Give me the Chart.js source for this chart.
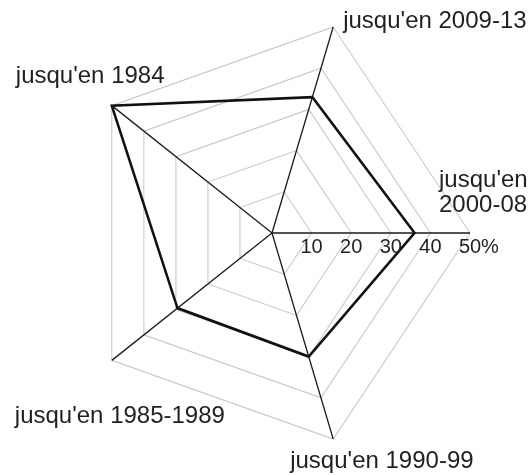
<!DOCTYPE html>
<html>
<head>
<meta charset="utf-8">
<script src="https://cdn.jsdelivr.net/npm/chart.js@4/dist/chart.umd.min.js"></script>
<style>
  html, body { margin: 0; padding: 0; background: #fff; }
</style>
</head>
<body>
<canvas id="radar" width="531" height="475"></canvas>
<script>
// categories, clockwise starting from the upper right spoke
const periods = ["jusqu'en 2009-13", ["jusqu'en", "2000-08"], "jusqu'en 1990-99", "jusqu'en 1985-1989", "jusqu'en 1984"];
// share in %
const shares = [33, 36, 30, 29.5, 50];
const tickValues = [10, 20, 30, 40, 50];

const ink = '#231f20';
const yStretch = 1.094;            // the original figure is a bit taller than wide
const labelFont = '24px "Liberation Sans", Arial, sans-serif';
const tickFont = '20px "Liberation Sans", Arial, sans-serif';
// where each category text starts, relative to the outer corner of its spoke
const labelOffsets = [[10, 1], [-31, -46], [-43, 29], [-97, 63], [-96, -23]];

const stretchPlugin = {
    id: 'stretch',
    beforeDraw(chart) {
        const s = chart.scales.r;
        const ctx = chart.ctx;
        ctx.save();
        ctx.translate(s.xCenter, s.yCenter);
        ctx.scale(1, yStretch);
        ctx.translate(-s.xCenter, -s.yCenter);
    },
    afterDraw(chart) {
        const s = chart.scales.r;
        const ctx = chart.ctx;
        ctx.restore();

        ctx.save();
        ctx.fillStyle = ink;
        ctx.textBaseline = 'alphabetic';

        // tick values along the right spoke
        ctx.font = tickFont;
        ctx.textAlign = 'left';
        tickValues.forEach(function (v, i) {
            const p = s.getPointPositionForValue(1, v);
            const num = String(v);
            const txt = i === tickValues.length - 1 ? num + '%' : num;
            ctx.fillText(txt, p.x - ctx.measureText(num).width / 2, s.yCenter + 20);
        });

        // category names
        ctx.font = labelFont;
        periods.forEach(function (label, i) {
            const p = s.getPointPositionForValue(i, s.max);
            const x = p.x + labelOffsets[i][0];
            const y = s.yCenter + (p.y - s.yCenter) * yStretch + labelOffsets[i][1];
            const lines = Array.isArray(label) ? label : [label];
            lines.forEach(function (line, j) {
                ctx.fillText(line, x, y + j * 25);
            });
        });
        ctx.restore();
    }
};

new Chart(document.getElementById('radar'), {
    type: 'radar',
    data: {
        labels: periods,
        datasets: [{
            data: shares,
            borderColor: '#111',
            borderWidth: 2.5,
            backgroundColor: 'transparent',
            fill: false,
            pointRadius: 0,
            tension: 0,
            clip: false
        }]
    },
    options: {
        responsive: false,
        animation: false,
        layout: { padding: { left: 74, right: 61, top: 35, bottom: 44 } },
        plugins: { legend: { display: false }, tooltip: { enabled: false } },
        scales: {
            r: {
                min: 0,
                max: 50,
                startAngle: 18,
                ticks: { display: false, stepSize: 10 },
                pointLabels: { display: false },
                grid: { color: '#c6c6c6', lineWidth: 1 },
                angleLines: { color: '#1a1a1a', lineWidth: 1.3 }
            }
        }
    },
    plugins: [stretchPlugin]
});
</script>
</body>
</html>
